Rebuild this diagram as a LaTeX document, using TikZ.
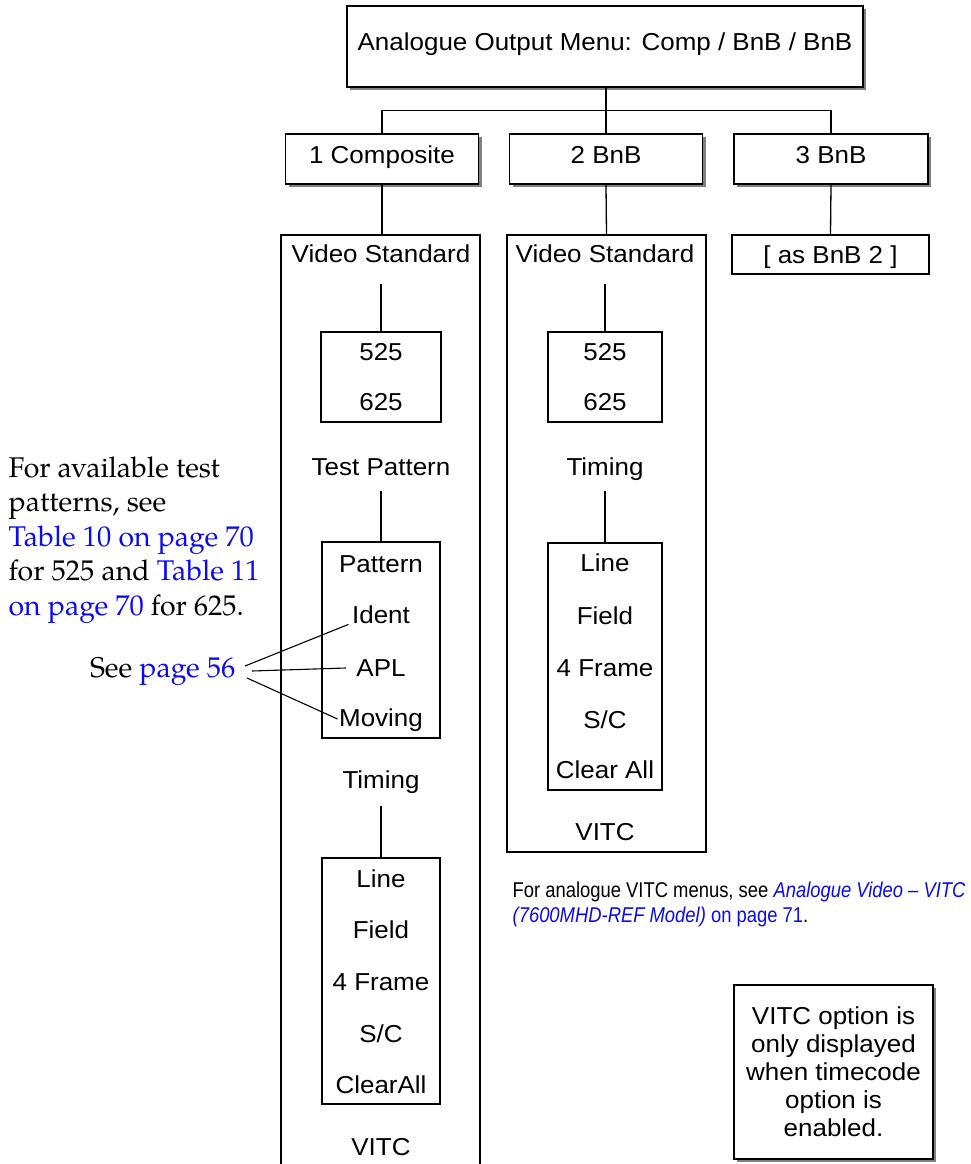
\documentclass[tikz,border=0pt]{standalone}
\usepackage{fontspec}
\newfontfamily\dg[FakeStretch=1.06]{Liberation Sans}
\newfontfamily\nar[FakeStretch=0.86]{Liberation Sans}
\newfontfamily\pal{TeX Gyre Pagella}
\usetikzlibrary{shadows}
\definecolor{lnk}{RGB}{10,10,245}
\definecolor{shd}{RGB}{128,128,128}
\begin{document}
\begin{tikzpicture}[x=1pt,y=-1pt,line width=1.3pt,
  box/.style={draw,rectangle,inner sep=0pt,fill=white},
  sbox/.style={box,drop shadow={shadow xshift=3pt,shadow yshift=-3pt,fill=shd,opacity=1}},
  dt/.style={font=\dg\fontsize{24.5}{28}\selectfont,inner sep=0pt,text height=17.5pt,text depth=0pt,anchor=center},
  ser/.style={font=\pal\fontsize{28.5}{34.5}\selectfont,inner sep=0pt,anchor=base west},
  nt/.style={font=\nar\fontsize{21.4}{25}\selectfont,inner sep=0pt,anchor=base west},
  ptr/.style={line width=1.1pt}]
\useasboundingbox (0,0) rectangle (971,1164);
% top level
\node[sbox,dt,text depth=9pt,minimum width=516pt,minimum height=81pt] (top) at (605,46.5) {Analogue Output Menu: Comp / BnB / BnB};
\node[sbox,dt,text depth=8pt,minimum width=193pt,minimum height=50pt] (c1) at (382,159) {1 Composite};
\node[sbox,dt,text depth=8pt,minimum width=193pt,minimum height=50pt] (c2) at (606,159) {2 BnB};
\node[sbox,dt,text depth=8pt,minimum width=194pt,minimum height=50pt] (c3) at (831,159) {3 BnB};
\draw (c2.north) -- (c2.north |- top.south);
\draw (c1.north) -- ++(0,-23) -| (c3.north);
% column 1 (open at bottom)
\coordinate (col1top) at (381,235);
\draw (281,1175) -- (281,235) -- (480,235) -- (480,1175);
\draw (c1.south) -- (c1.south |- col1top);
% column 2
\node[box,minimum width=199pt,minimum height=617pt] (col2) at (606.5,543.5) {};
\draw (c2.south) -- (col2.north);
% as BnB 2
\node[box,dt,minimum width=197pt,minimum height=39pt] (as) at (830.5,254.5) {[ as BnB 2 ]};
\draw (c3.south) -- (as.north);
% column 1 content
\node[dt,minimum height=58pt] (vs1) at (381,254) {Video Standard};
\node[box,minimum width=120pt,minimum height=90pt] (std1) at (381,377) {};
\node[dt] (s1a) at (381,352) {525};
\node[dt] (s1b) at (381,402) {625};
\draw (vs1.south) -- (std1.north);
\node[dt,minimum height=46pt] (tp1) at (381,467) {Test Pattern};
\node[box,minimum width=118pt,minimum height=196pt] (pat) at (381,640) {};
\draw (tp1.south) -- (pat.north);
\node[dt] (pattern) at (381,564) {Pattern};
\node[dt] (ident) at (381,615) {Ident};
\node[dt] (apl) at (381,668) {APL};
\node[dt] (mov) at (381,718) {Moving};
\node[dt,minimum height=50pt] (tm1) at (381,780) {Timing};
\node[box,minimum width=118pt,minimum height=246pt] (tb1) at (381,981) {};
\draw (tm1.south) -- (tb1.north);
\node[dt] (l1a) at (381,879) {Line};
\node[dt] (l1b) at (381,930) {Field};
\node[dt] (l1c) at (381,982) {4 Frame};
\node[dt] (l1d) at (381,1034) {S/C};
\node[dt] (l1e) at (381,1085) {ClearAll};
\node[dt] (vitc1) at (381,1147) {VITC};
% column 2 content
\node[dt,minimum height=58pt] (vs2) at (605,254) {Video Standard};
\node[box,minimum width=114pt,minimum height=90pt] (std2) at (605,377) {};
\node[dt] (s2a) at (605,352) {525};
\node[dt] (s2b) at (605,402) {625};
\draw (vs2.south) -- (std2.north);
\node[dt,minimum height=46pt] (tm2) at (605,467) {Timing};
\node[box,minimum width=114pt,minimum height=247pt] (tb2) at (605,666.5) {};
\draw (tm2.south) -- (tb2.north);
\node[dt] (l2a) at (605,563) {Line};
\node[dt] (l2b) at (605,616) {Field};
\node[dt] (l2c) at (605,668) {4 Frame};
\node[dt] (l2d) at (605,720) {S/C};
\node[dt] (l2e) at (605,770) {Clear All};
\node[dt] (vitc2) at (605,832) {VITC};
% left serif text
\node[ser] (t1) at (8,477) {For available test};
\node[ser] (t2) at (8,511.5) {patterns, see};
\node[ser] (t3) at (8,546) {\textcolor{lnk}{Table 10 on page 70}};
\node[ser] (t4) at (8,580.5) {for 525 and \textcolor{lnk}{Table 11}};
\node[ser] (t5) at (8,615) {\textcolor{lnk}{on page 70} for 625.};
\node[ser,anchor=base east] (see) at (236,677) {See \textcolor{lnk}{page 56}};
\coordinate (p1) at (245,666);
\coordinate (p2) at (252,671);
\coordinate (p3) at (247,678);
\draw[ptr] (p1) -- ([xshift=-3pt]ident.south west);
\draw[ptr] (p2) -- ([xshift=-10pt]apl.west);
\draw[ptr] (p3) -- ([xshift=-1pt,yshift=-1pt]mov.west);
% note text
\node[nt] (n1) at (512,897) {For analogue VITC menus, see \textcolor{lnk}{\itshape Analogue Video – VITC}};
\node[nt] (n2) at (512,922) {\textcolor{lnk}{{\itshape (7600MHD-REF Model)} on page 71}.};
% VITC note
\node[sbox,font=\dg\fontsize{24.5}{28}\selectfont,align=center,minimum width=199pt,minimum height=174pt] (note) at (833.5,1072) {VITC option is\\only displayed\\when timecode\\option is\\enabled.};
\end{tikzpicture}
\end{document}
